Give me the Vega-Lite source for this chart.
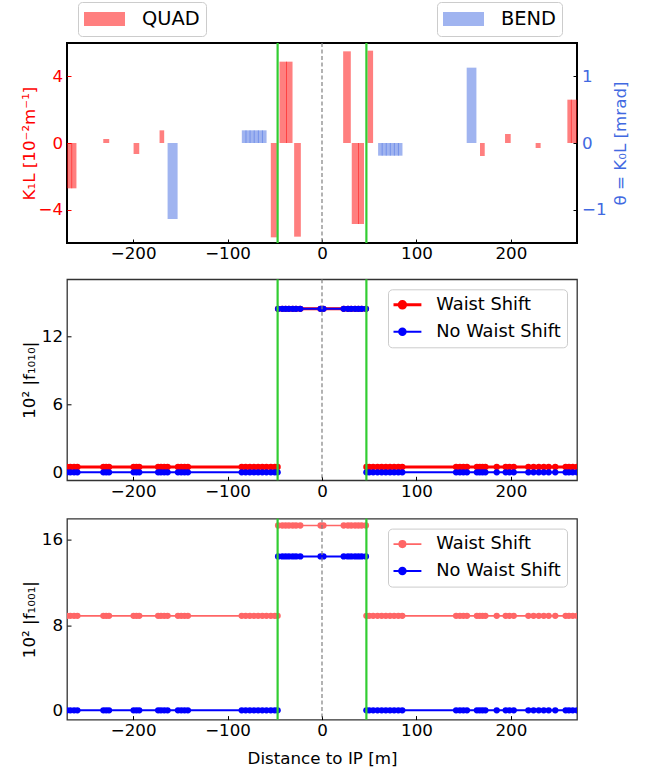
{
  "$schema": "https://vega.github.io/schema/vega-lite/v6.json",
  "padding": {"left": 20, "top": 0, "right": 0, "bottom": 0},
  "spacing": 13.3,
  "config": {
    "font": "DejaVu Sans",
    "axis": {"labelFont": "DejaVu Sans", "labelFontSize": 16.7, "titleFont": "DejaVu Sans", "titleFontSize": 16.7, "titleFontWeight": "normal", "tickSize": -4, "tickColor": "black", "labelColor": "black", "titleColor": "black", "domain": false, "grid": false, "tickWidth": 1, "labelFlush": false, "labelOverlap": false},
    "axisX": {"labelPadding": 6.7},
    "axisY": {"labelPadding": 8.4},
    "legend": {"labelFont": "DejaVu Sans", "labelColor": "black"},
    "view": {"stroke": "#333333", "strokeWidth": 1.3}
  },
  "resolve": {"scale": {"color": "independent"}, "legend": {"color": "independent"}},
  "datasets": {
    "quad": [
      {"s": -270, "e": -264.5, "k1l": -2.72, "type": "QUAD"},
      {"s": -265.5, "e": -260, "k1l": -2.72, "type": "QUAD"},
      {"s": -231.6, "e": -225.3, "k1l": 0.24, "type": "QUAD"},
      {"s": -199.5, "e": -193.5, "k1l": -0.66, "type": "QUAD"},
      {"s": -172, "e": -167.1, "k1l": 0.76, "type": "QUAD"},
      {"s": -54.2, "e": -47.8, "k1l": -5.66, "type": "QUAD"},
      {"s": -45, "e": -37.1, "k1l": 4.88, "type": "QUAD"},
      {"s": -38.1, "e": -31.2, "k1l": 4.88, "type": "QUAD"},
      {"s": -29.5, "e": -22.4, "k1l": -5.62, "type": "QUAD"},
      {"s": 22.4, "e": 30.5, "k1l": 5.5, "type": "QUAD"},
      {"s": 31.5, "e": 39.1, "k1l": -4.86, "type": "QUAD"},
      {"s": 38.1, "e": 44.5, "k1l": -4.86, "type": "QUAD"},
      {"s": 48.1, "e": 54.1, "k1l": 5.54, "type": "QUAD"},
      {"s": 167.3, "e": 172.3, "k1l": -0.78, "type": "QUAD"},
      {"s": 193.8, "e": 199.8, "k1l": 0.54, "type": "QUAD"},
      {"s": 226.2, "e": 231.5, "k1l": -0.3, "type": "QUAD"},
      {"s": 259.8, "e": 264.5, "k1l": 2.6, "type": "QUAD"},
      {"s": 263.5, "e": 270, "k1l": 2.6, "type": "QUAD"}
    ],
    "bend": [
      {"s": -163.5, "e": -152.9, "theta": -1.14, "type": "BEND"},
      {"s": -84.9, "e": -80.0, "theta": 0.19, "type": "BEND"},
      {"s": -81.0, "e": -75.7, "theta": 0.19, "type": "BEND"},
      {"s": -76.7, "e": -71.3, "theta": 0.19, "type": "BEND"},
      {"s": -72.3, "e": -66.9, "theta": 0.19, "type": "BEND"},
      {"s": -67.9, "e": -62.6, "theta": 0.19, "type": "BEND"},
      {"s": -63.6, "e": -58.7, "theta": 0.19, "type": "BEND"},
      {"s": 59.4, "e": 64.2, "theta": -0.19, "type": "BEND"},
      {"s": 63.2, "e": 68.5, "theta": -0.19, "type": "BEND"},
      {"s": 67.5, "e": 72.8, "theta": -0.19, "type": "BEND"},
      {"s": 71.8, "e": 77.1, "theta": -0.19, "type": "BEND"},
      {"s": 76.1, "e": 81.4, "theta": -0.19, "type": "BEND"},
      {"s": 80.4, "e": 85.2, "theta": -0.19, "type": "BEND"},
      {"s": 153.2, "e": 163.5, "theta": 1.13, "type": "BEND"}
    ],
    "ip": [{"s": 0}],
    "edges": [{"s": -47}, {"s": 47}],
    "tw": [
      {"s": -270, "seg": "L", "ws1010": 0.47, "nws1010": 0, "ws1001": 8.87, "nws1001": 0},
      {"s": -266.5, "seg": "L", "ws1010": 0.47, "nws1010": 0, "ws1001": 8.87, "nws1001": 0},
      {"s": -262.5, "seg": "L", "ws1010": 0.47, "nws1010": 0, "ws1001": 8.87, "nws1001": 0},
      {"s": -259, "seg": "L", "ws1010": 0.47, "nws1010": 0, "ws1001": 8.87, "nws1001": 0},
      {"s": -231.5, "seg": "L", "ws1010": 0.47, "nws1010": 0, "ws1001": 8.87, "nws1001": 0},
      {"s": -228.5, "seg": "L", "ws1010": 0.47, "nws1010": 0, "ws1001": 8.87, "nws1001": 0},
      {"s": -225.5, "seg": "L", "ws1010": 0.47, "nws1010": 0, "ws1001": 8.87, "nws1001": 0},
      {"s": -199.5, "seg": "L", "ws1010": 0.47, "nws1010": 0, "ws1001": 8.87, "nws1001": 0},
      {"s": -196.5, "seg": "L", "ws1010": 0.47, "nws1010": 0, "ws1001": 8.87, "nws1001": 0},
      {"s": -193.5, "seg": "L", "ws1010": 0.47, "nws1010": 0, "ws1001": 8.87, "nws1001": 0},
      {"s": -173.5, "seg": "L", "ws1010": 0.47, "nws1010": 0, "ws1001": 8.87, "nws1001": 0},
      {"s": -170.5, "seg": "L", "ws1010": 0.47, "nws1010": 0, "ws1001": 8.87, "nws1001": 0},
      {"s": -167, "seg": "L", "ws1010": 0.47, "nws1010": 0, "ws1001": 8.87, "nws1001": 0},
      {"s": -163.5, "seg": "L", "ws1010": 0.47, "nws1010": 0, "ws1001": 8.87, "nws1001": 0},
      {"s": -152.5, "seg": "L", "ws1010": 0.47, "nws1010": 0, "ws1001": 8.87, "nws1001": 0},
      {"s": -149, "seg": "L", "ws1010": 0.47, "nws1010": 0, "ws1001": 8.87, "nws1001": 0},
      {"s": -145.5, "seg": "L", "ws1010": 0.47, "nws1010": 0, "ws1001": 8.87, "nws1001": 0},
      {"s": -142, "seg": "L", "ws1010": 0.47, "nws1010": 0, "ws1001": 8.87, "nws1001": 0},
      {"s": -85, "seg": "L", "ws1010": 0.47, "nws1010": 0, "ws1001": 8.87, "nws1001": 0},
      {"s": -80.8, "seg": "L", "ws1010": 0.47, "nws1010": 0, "ws1001": 8.87, "nws1001": 0},
      {"s": -76.4, "seg": "L", "ws1010": 0.47, "nws1010": 0, "ws1001": 8.87, "nws1001": 0},
      {"s": -72, "seg": "L", "ws1010": 0.47, "nws1010": 0, "ws1001": 8.87, "nws1001": 0},
      {"s": -67.6, "seg": "L", "ws1010": 0.47, "nws1010": 0, "ws1001": 8.87, "nws1001": 0},
      {"s": -63.2, "seg": "L", "ws1010": 0.47, "nws1010": 0, "ws1001": 8.87, "nws1001": 0},
      {"s": -58.8, "seg": "L", "ws1010": 0.47, "nws1010": 0, "ws1001": 8.87, "nws1001": 0},
      {"s": -54.2, "seg": "L", "ws1010": 0.47, "nws1010": 0, "ws1001": 8.87, "nws1001": 0},
      {"s": -50, "seg": "L", "ws1010": 0.47, "nws1010": 0, "ws1001": 8.87, "nws1001": 0},
      {"s": -47, "seg": "L", "ws1010": 0.47, "nws1010": 0, "ws1001": 8.87, "nws1001": 0},
      {"s": -46.5, "seg": "C", "ws1010": 14.4, "nws1010": 14.4, "ws1001": 17.35, "nws1001": 14.45},
      {"s": -42, "seg": "C", "ws1010": 14.4, "nws1010": 14.4, "ws1001": 17.35, "nws1001": 14.45},
      {"s": -38.5, "seg": "C", "ws1010": 14.4, "nws1010": 14.4, "ws1001": 17.35, "nws1001": 14.45},
      {"s": -35, "seg": "C", "ws1010": 14.4, "nws1010": 14.4, "ws1001": 17.35, "nws1001": 14.45},
      {"s": -31, "seg": "C", "ws1010": 14.4, "nws1010": 14.4, "ws1001": 17.35, "nws1001": 14.45},
      {"s": -27.5, "seg": "C", "ws1010": 14.4, "nws1010": 14.4, "ws1001": 17.35, "nws1001": 14.45},
      {"s": -23, "seg": "C", "ws1010": 14.4, "nws1010": 14.4, "ws1001": 17.35, "nws1001": 14.45},
      {"s": -1.5, "seg": "C", "ws1010": 14.4, "nws1010": 14.4, "ws1001": 17.35, "nws1001": 14.45},
      {"s": 1.5, "seg": "C", "ws1010": 14.4, "nws1010": 14.4, "ws1001": 17.35, "nws1001": 14.45},
      {"s": 23, "seg": "C", "ws1010": 14.4, "nws1010": 14.4, "ws1001": 17.35, "nws1001": 14.45},
      {"s": 27.5, "seg": "C", "ws1010": 14.4, "nws1010": 14.4, "ws1001": 17.35, "nws1001": 14.45},
      {"s": 31, "seg": "C", "ws1010": 14.4, "nws1010": 14.4, "ws1001": 17.35, "nws1001": 14.45},
      {"s": 35, "seg": "C", "ws1010": 14.4, "nws1010": 14.4, "ws1001": 17.35, "nws1001": 14.45},
      {"s": 38.5, "seg": "C", "ws1010": 14.4, "nws1010": 14.4, "ws1001": 17.35, "nws1001": 14.45},
      {"s": 42, "seg": "C", "ws1010": 14.4, "nws1010": 14.4, "ws1001": 17.35, "nws1001": 14.45},
      {"s": 46.5, "seg": "C", "ws1010": 14.4, "nws1010": 14.4, "ws1001": 17.35, "nws1001": 14.45},
      {"s": 47, "seg": "R", "ws1010": 0.47, "nws1010": 0, "ws1001": 8.87, "nws1001": 0},
      {"s": 50, "seg": "R", "ws1010": 0.47, "nws1010": 0, "ws1001": 8.87, "nws1001": 0},
      {"s": 54.2, "seg": "R", "ws1010": 0.47, "nws1010": 0, "ws1001": 8.87, "nws1001": 0},
      {"s": 58.8, "seg": "R", "ws1010": 0.47, "nws1010": 0, "ws1001": 8.87, "nws1001": 0},
      {"s": 63.2, "seg": "R", "ws1010": 0.47, "nws1010": 0, "ws1001": 8.87, "nws1001": 0},
      {"s": 67.6, "seg": "R", "ws1010": 0.47, "nws1010": 0, "ws1001": 8.87, "nws1001": 0},
      {"s": 72, "seg": "R", "ws1010": 0.47, "nws1010": 0, "ws1001": 8.87, "nws1001": 0},
      {"s": 76.4, "seg": "R", "ws1010": 0.47, "nws1010": 0, "ws1001": 8.87, "nws1001": 0},
      {"s": 80.8, "seg": "R", "ws1010": 0.47, "nws1010": 0, "ws1001": 8.87, "nws1001": 0},
      {"s": 85, "seg": "R", "ws1010": 0.47, "nws1010": 0, "ws1001": 8.87, "nws1001": 0},
      {"s": 142, "seg": "R", "ws1010": 0.47, "nws1010": 0, "ws1001": 8.87, "nws1001": 0},
      {"s": 146, "seg": "R", "ws1010": 0.47, "nws1010": 0, "ws1001": 8.87, "nws1001": 0},
      {"s": 149.7, "seg": "R", "ws1010": 0.47, "nws1010": 0, "ws1001": 8.87, "nws1001": 0},
      {"s": 153.5, "seg": "R", "ws1010": 0.47, "nws1010": 0, "ws1001": 8.87, "nws1001": 0},
      {"s": 164, "seg": "R", "ws1010": 0.47, "nws1010": 0, "ws1001": 8.87, "nws1001": 0},
      {"s": 167, "seg": "R", "ws1010": 0.47, "nws1010": 0, "ws1001": 8.87, "nws1001": 0},
      {"s": 170, "seg": "R", "ws1010": 0.47, "nws1010": 0, "ws1001": 8.87, "nws1001": 0},
      {"s": 173, "seg": "R", "ws1010": 0.47, "nws1010": 0, "ws1001": 8.87, "nws1001": 0},
      {"s": 185, "seg": "R", "ws1010": 0.47, "nws1010": 0, "ws1001": 8.87, "nws1001": 0},
      {"s": 194.5, "seg": "R", "ws1010": 0.47, "nws1010": 0, "ws1001": 8.87, "nws1001": 0},
      {"s": 198.5, "seg": "R", "ws1010": 0.47, "nws1010": 0, "ws1001": 8.87, "nws1001": 0},
      {"s": 203, "seg": "R", "ws1010": 0.47, "nws1010": 0, "ws1001": 8.87, "nws1001": 0},
      {"s": 218.5, "seg": "R", "ws1010": 0.47, "nws1010": 0, "ws1001": 8.87, "nws1001": 0},
      {"s": 224, "seg": "R", "ws1010": 0.47, "nws1010": 0, "ws1001": 8.87, "nws1001": 0},
      {"s": 229.5, "seg": "R", "ws1010": 0.47, "nws1010": 0, "ws1001": 8.87, "nws1001": 0},
      {"s": 234.8, "seg": "R", "ws1010": 0.47, "nws1010": 0, "ws1001": 8.87, "nws1001": 0},
      {"s": 240, "seg": "R", "ws1010": 0.47, "nws1010": 0, "ws1001": 8.87, "nws1001": 0},
      {"s": 247, "seg": "R", "ws1010": 0.47, "nws1010": 0, "ws1001": 8.87, "nws1001": 0},
      {"s": 258, "seg": "R", "ws1010": 0.47, "nws1010": 0, "ws1001": 8.87, "nws1001": 0},
      {"s": 261.5, "seg": "R", "ws1010": 0.47, "nws1010": 0, "ws1001": 8.87, "nws1001": 0},
      {"s": 265.5, "seg": "R", "ws1010": 0.47, "nws1010": 0, "ws1001": 8.87, "nws1001": 0},
      {"s": 270, "seg": "R", "ws1010": 0.47, "nws1010": 0, "ws1001": 8.87, "nws1001": 0}
    ]
  },
  "vconcat": [
    {
      "width": 510,
      "height": 200,
      "view": {"stroke": "black", "strokeWidth": 2},
      "encoding": {
        "x": {"field": "s", "type": "quantitative", "scale": {"domain": [-270, 270], "nice": false}, "axis": {"values": [-200, -100, 0, 100, 200], "title": null}}
      },
      "layer": [
        {
          "data": {"name": "quad"},
          "mark": {"type": "bar", "opacity": 0.5},
          "encoding": {
            "x2": {"field": "e"},
            "y": {"field": "k1l", "type": "quantitative", "scale": {"domain": [-6, 6], "nice": false}, "axis": {"values": [-4, 0, 4], "title": "K₁L [10⁻²m⁻¹]", "labelColor": "#ff0000", "titleColor": "#ff0000", "tickColor": "#ff0000", "titleX": -33, "titleBaseline": "alphabetic", "titleAngle": 270}},
            "y2": {"datum": 0},
            "color": {"field": "type", "type": "nominal", "scale": {"range": ["#ff0000"]}, "legend": {"orient": "none", "legendX": 11, "legendY": -41, "title": null, "symbolType": "M-1,-0.34H1V0.34H-1Z", "symbolSize": 1681, "symbolOpacity": 0.5, "symbolStrokeWidth": 0, "clipHeight": 22, "labelFontSize": 19.4, "labelOffset": 17, "padding": 6, "strokeColor": "#cccccc", "fillColor": "white", "cornerRadius": 4}}
          }
        },
        {
          "data": {"name": "bend"},
          "mark": {"type": "bar", "opacity": 0.5},
          "encoding": {
            "x2": {"field": "e"},
            "y": {"field": "theta", "type": "quantitative", "scale": {"domain": [-1.5, 1.5], "nice": false}, "axis": {"orient": "right", "values": [-1, 0, 1], "title": "θ = K₀L [mrad]", "labelColor": "#4169e1", "titleColor": "#4169e1", "titleX": 48, "titleBaseline": "alphabetic", "titleAngle": 270}},
            "y2": {"datum": 0},
            "color": {"field": "type", "type": "nominal", "scale": {"range": ["#4169e1"]}, "legend": {"orient": "none", "legendX": 370, "legendY": -41, "title": null, "symbolType": "M-1,-0.34H1V0.34H-1Z", "symbolSize": 1681, "symbolOpacity": 0.5, "symbolStrokeWidth": 0, "clipHeight": 22, "labelFontSize": 19.4, "labelOffset": 17, "padding": 6, "strokeColor": "#cccccc", "fillColor": "white", "cornerRadius": 4}}
          }
        },
        {
          "data": {"name": "ip"},
          "mark": {"type": "rule", "color": "black", "strokeWidth": 2},
          "encoding": {"y": {"datum": 0, "type": "quantitative", "scale": {"domain": [-6, 6], "nice": false}, "axis": null}}
        },
        {
          "data": {"name": "ip"},
          "mark": {"type": "rule", "color": "#808080", "strokeWidth": 1.2, "strokeDash": [4, 2.5]},
          "encoding": {}
        },
        {
          "data": {"name": "edges"},
          "mark": {"type": "rule", "color": "#32cd32", "strokeWidth": 2.2},
          "encoding": {}
        }
      ],
      "resolve": {"scale": {"y": "independent", "color": "independent"}, "legend": {"color": "independent"}}
    },
    {
      "spacing": 15.3,
      "resolve": {"scale": {"color": "independent"}, "legend": {"color": "independent"}},
      "vconcat": [
        {
          "width": 510,
          "height": 201,
          "encoding": {
            "x": {"field": "s", "type": "quantitative", "scale": {"domain": [-270, 270], "nice": false}, "axis": {"values": [-200, -100, 0, 100, 200], "title": null}}
          },
          "layer": [
            {
              "data": {"name": "tw"},
              "mark": {"type": "line", "strokeWidth": 3, "clip": true},
              "encoding": {
                "y": {"field": "ws1010", "type": "quantitative", "scale": {"domain": [-0.7, 17], "nice": false}, "axis": {"values": [0, 6, 12], "title": "10² |f₁₀₁₀|", "titleX": -33, "titleBaseline": "alphabetic", "titleAngle": 270}},
                "detail": {"field": "seg"},
                "color": {"datum": "Waist Shift", "type": "nominal", "scale": {"domain": ["Waist Shift", "No Waist Shift"], "range": ["#ff0000", "#0000ff"]}, "legend": {"orient": "top-right", "offset": 10, "title": null, "symbolType": "M-1,0H1M-0.17,0A0.17,0.17,0,1,1,0.17,0A0.17,0.17,0,1,1,-0.17,0Z", "symbolSize": 1444, "clipHeight": 20, "labelFontSize": 17.8, "labelOffset": 25, "padding": 5.5, "rowPadding": 7, "strokeColor": "#cccccc", "fillColor": "rgba(255,255,255,0.85)", "cornerRadius": 4, "encode": {"symbols": {"update": {"size": {"value": 1444}, "fill": {"signal": "datum.value === 'Waist Shift' ? '#ff0000' : '#0000ff'"}, "stroke": {"signal": "datum.value === 'Waist Shift' ? '#ff0000' : '#0000ff'"}, "strokeWidth": {"signal": "datum.value === 'Waist Shift' ? 3 : 2"}, "opacity": {"value": 1}, "fillOpacity": {"value": 1}, "strokeOpacity": {"value": 1}}}}}}
              }
            },
            {
              "data": {"name": "tw"},
              "mark": {"type": "point", "filled": true, "size": 40, "opacity": 1, "clip": true},
              "encoding": {
                "y": {"field": "ws1010", "type": "quantitative", "axis": {"values": [0, 6, 12], "title": "10² |f₁₀₁₀|", "titleX": -33, "titleBaseline": "alphabetic", "titleAngle": 270}},
                "color": {"datum": "Waist Shift", "type": "nominal"}
              }
            },
            {
              "data": {"name": "tw"},
              "mark": {"type": "line", "strokeWidth": 2, "clip": true},
              "encoding": {
                "y": {"field": "nws1010", "type": "quantitative", "axis": {"values": [0, 6, 12], "title": "10² |f₁₀₁₀|", "titleX": -33, "titleBaseline": "alphabetic", "titleAngle": 270}},
                "detail": {"field": "seg"},
                "color": {"datum": "No Waist Shift", "type": "nominal"}
              }
            },
            {
              "data": {"name": "tw"},
              "mark": {"type": "point", "filled": true, "size": 40, "opacity": 1, "clip": true},
              "encoding": {
                "y": {"field": "nws1010", "type": "quantitative", "axis": {"values": [0, 6, 12], "title": "10² |f₁₀₁₀|", "titleX": -33, "titleBaseline": "alphabetic", "titleAngle": 270}},
                "color": {"datum": "No Waist Shift", "type": "nominal"}
              }
            },
            {
              "data": {"name": "ip"},
              "mark": {"type": "rule", "color": "#808080", "strokeWidth": 1.2, "strokeDash": [4, 2.5]},
              "encoding": {}
            },
            {
              "data": {"name": "edges"},
              "mark": {"type": "rule", "color": "#32cd32", "strokeWidth": 2.2},
              "encoding": {}
            }
          ]
        },
        {
          "width": 510,
          "height": 201,
          "encoding": {
            "x": {"field": "s", "type": "quantitative", "scale": {"domain": [-270, 270], "nice": false}, "axis": {"values": [-200, -100, 0, 100, 200], "title": "Distance to IP [m]", "titleY": 30.5, "titleBaseline": "top"}}
          },
          "layer": [
            {
              "data": {"name": "tw"},
              "mark": {"type": "line", "strokeWidth": 1.6, "clip": true},
              "encoding": {
                "y": {"field": "ws1001", "type": "quantitative", "scale": {"domain": [-0.87, 18], "nice": false}, "axis": {"values": [0, 8, 16], "title": "10² |f₁₀₀₁|", "titleX": -33, "titleBaseline": "alphabetic", "titleAngle": 270}},
                "detail": {"field": "seg"},
                "color": {"datum": "Waist Shift", "type": "nominal", "scale": {"domain": ["Waist Shift", "No Waist Shift"], "range": ["#ff6666", "#0000ff"]}, "legend": {"orient": "top-right", "offset": 10, "title": null, "symbolType": "M-1,0H1M-0.17,0A0.17,0.17,0,1,1,0.17,0A0.17,0.17,0,1,1,-0.17,0Z", "symbolSize": 1444, "clipHeight": 20, "labelFontSize": 17.8, "labelOffset": 25, "padding": 5.5, "rowPadding": 7, "strokeColor": "#cccccc", "fillColor": "rgba(255,255,255,0.85)", "cornerRadius": 4, "encode": {"symbols": {"update": {"size": {"value": 1444}, "fill": {"signal": "datum.value === 'Waist Shift' ? '#ff6666' : '#0000ff'"}, "stroke": {"signal": "datum.value === 'Waist Shift' ? '#ff6666' : '#0000ff'"}, "strokeWidth": {"signal": "datum.value === 'Waist Shift' ? 1.6 : 2"}, "opacity": {"value": 1}, "fillOpacity": {"value": 1}, "strokeOpacity": {"value": 1}}}}}}
              }
            },
            {
              "data": {"name": "tw"},
              "mark": {"type": "point", "filled": true, "size": 40, "opacity": 1, "clip": true},
              "encoding": {
                "y": {"field": "ws1001", "type": "quantitative", "axis": {"values": [0, 8, 16], "title": "10² |f₁₀₀₁|", "titleX": -33, "titleBaseline": "alphabetic", "titleAngle": 270}},
                "color": {"datum": "Waist Shift", "type": "nominal"}
              }
            },
            {
              "data": {"name": "tw"},
              "mark": {"type": "line", "strokeWidth": 2, "clip": true},
              "encoding": {
                "y": {"field": "nws1001", "type": "quantitative", "axis": {"values": [0, 8, 16], "title": "10² |f₁₀₀₁|", "titleX": -33, "titleBaseline": "alphabetic", "titleAngle": 270}},
                "detail": {"field": "seg"},
                "color": {"datum": "No Waist Shift", "type": "nominal"}
              }
            },
            {
              "data": {"name": "tw"},
              "mark": {"type": "point", "filled": true, "size": 40, "opacity": 1, "clip": true},
              "encoding": {
                "y": {"field": "nws1001", "type": "quantitative", "axis": {"values": [0, 8, 16], "title": "10² |f₁₀₀₁|", "titleX": -33, "titleBaseline": "alphabetic", "titleAngle": 270}},
                "color": {"datum": "No Waist Shift", "type": "nominal"}
              }
            },
            {
              "data": {"name": "ip"},
              "mark": {"type": "rule", "color": "#808080", "strokeWidth": 1.2, "strokeDash": [4, 2.5]},
              "encoding": {}
            },
            {
              "data": {"name": "edges"},
              "mark": {"type": "rule", "color": "#32cd32", "strokeWidth": 2.2},
              "encoding": {}
            }
          ]
        }
      ]
    }
  ]
}
